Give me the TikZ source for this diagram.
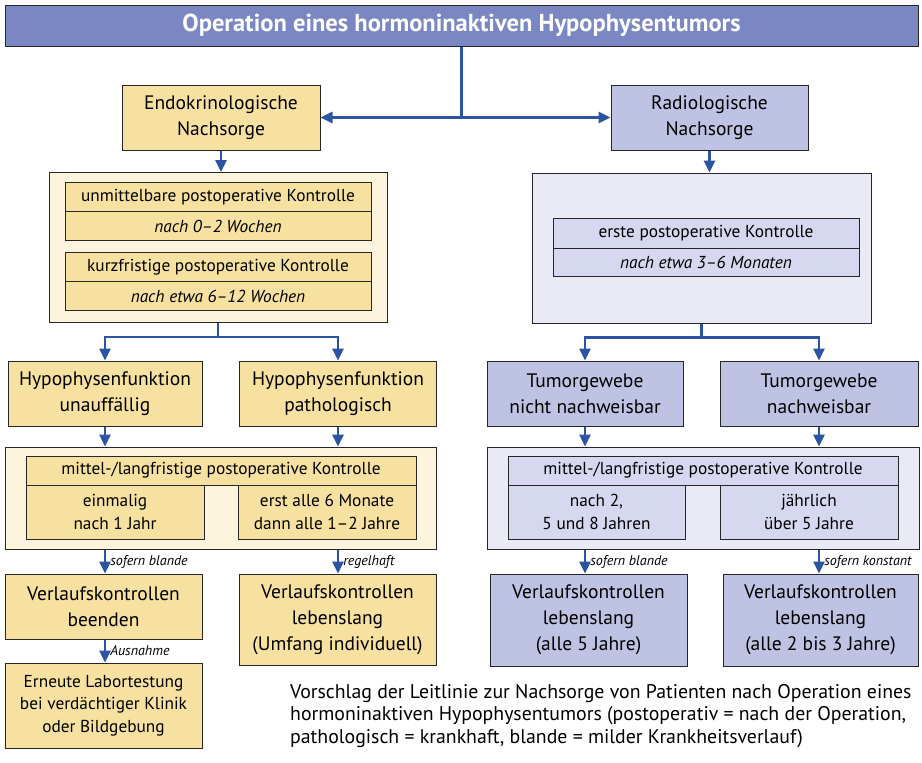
\documentclass[tikz,border=0pt]{standalone}
\usepackage{fontspec}
\setmainfont{PT Sans}
\usepackage{tikz}
\usetikzlibrary{arrows.meta}

\definecolor{titleblue}{HTML}{7B87C3}
\definecolor{endoyel}{HTML}{F7E1A0}
\definecolor{endocream}{HTML}{FCF4DC}
\definecolor{radlav}{HTML}{BEC2E3}
\definecolor{radpale}{HTML}{E9EAF6}
\definecolor{radcellc}{HTML}{D5D8EE}
\definecolor{arrowblue}{HTML}{2B55A3}

\tikzset{
        box/.style={draw=black!85, line width=1pt, align=center, inner sep=0pt,
                font=\fontsize{19.5}{26}\selectfont},
        endobox/.style={box, fill=endoyel},
        radbox/.style={box, fill=radlav},
        endopanel/.style={draw=black!85, line width=1pt, fill=endocream, inner sep=0pt},
        radpanel/.style={draw=black!85, line width=1pt, fill=radpale, inner sep=0pt},
        cell/.style={draw=black!85, line width=0.9pt, align=center, inner sep=0pt,
                font=\fontsize{17.3}{22.5}\selectfont},
        endocell/.style={cell, fill=endoyel},
        radcell/.style={cell, fill=radcellc},
        conn/.style={draw=arrowblue, line width=2.6pt, -{Triangle[width=11pt,length=12pt]}},
        cond/.style={anchor=west, inner sep=1pt, font=\fontsize{14}{15}\selectfont\itshape}
}

\begin{document}
\begin{tikzpicture}[x=1pt,y=-1pt]
        \useasboundingbox (0,0) rectangle (922,763);
        \node[draw=black!85, line width=1pt, fill=titleblue, text=white, inner sep=0pt,
                minimum width=913, minimum height=41, font=\fontsize{24.5}{28}\selectfont\bfseries]
                (title) at (461.5,25.5) {Operation eines hormoninaktiven Hypophysentumors};

        \node[endobox, minimum width=198, minimum height=65] (endo) at (221,117.5) {Endokrinologische\\Nachsorge};
        \node[radbox, minimum width=197, minimum height=65] (radio) at (709.5,117.5) {Radiologische\\Nachsorge};

        \node[endopanel, minimum width=338, minimum height=150] (endoK) at (218,247.5) {};
        \node[endocell, minimum width=306, minimum height=29] (uk) at (218,197) {unmittelbare postoperative Kontrolle};
        \node[endocell, minimum width=306, minimum height=29] (ukt) at (218,226) {\itshape nach 0--2 Wochen};
        \node[endocell, minimum width=306, minimum height=29] (kk) at (218,267) {kurzfristige postoperative Kontrolle};
        \node[endocell, minimum width=306, minimum height=29] (kkt) at (218,296) {\itshape nach etwa 6--12 Wochen};

        \node[radpanel, minimum width=339, minimum height=150] (radK) at (701.5,248) {};
        \node[radcell, minimum width=306, minimum height=30] (ek) at (706,233) {erste postoperative Kontrolle};
        \node[radcell, minimum width=306, minimum height=28] (ekt) at (706,262) {\itshape nach etwa 3--6 Monaten};

        \node[endobox, minimum width=194, minimum height=65] (hfu) at (105,393.5) {Hypophysenfunktion\\unauffällig};
        \node[endobox, minimum width=197, minimum height=65] (hfp) at (338,393.5) {Hypophysenfunktion\\pathologisch};
        \node[radbox, minimum width=196, minimum height=65] (tgn) at (585,393.5) {Tumorgewebe\\nicht nachweisbar};
        \node[radbox, minimum width=198, minimum height=65] (tgp) at (819,393.5) {Tumorgewebe\\nachweisbar};

        \node[endopanel, minimum width=431, minimum height=102] (endoL) at (220.5,498) {};
        \node[endocell, minimum width=390, minimum height=29] (el) at (221,470.5) {mittel-/langfristige postoperative Kontrolle};
        \node[endocell, minimum width=178, minimum height=54] (el1) at (115,512) {einmalig\\nach 1 Jahr};
        \node[endocell, minimum width=178, minimum height=54] (el2) at (327,512) {erst alle 6 Monate\\dann alle 1--2 Jahre};

        \node[radpanel, minimum width=432, minimum height=102] (radL) at (703,498) {};
        \node[radcell, minimum width=390, minimum height=29] (rl) at (703,470.5) {mittel-/langfristige postoperative Kontrolle};
        \node[radcell, minimum width=177, minimum height=54] (rl1) at (596.5,512) {nach 2,\\5 und 8 Jahren};
        \node[radcell, minimum width=178, minimum height=54] (rl2) at (809,512) {jährlich\\über 5 Jahre};

        \node[endobox, minimum width=197, minimum height=65] (vk1) at (103.5,606.5) {Verlaufskontrollen\\beenden};
        \node[endobox, minimum width=197, minimum height=91] (vk2) at (337.5,619.5) {Verlaufskontrollen\\lebenslang\\(Umfang individuell)};
        \node[radbox, minimum width=197, minimum height=92] (vk3) at (588.5,620) {Verlaufskontrollen\\lebenslang\\(alle 5 Jahre)};
        \node[radbox, minimum width=195, minimum height=92] (vk4) at (820.5,620) {Verlaufskontrollen\\lebenslang\\(alle 2 bis 3 Jahre)};

        \node[endobox, minimum width=197, minimum height=85, font=\fontsize{17.3}{22.5}\selectfont] (lab) at (103.5,705.5)
                {Erneute Labortestung\\bei verdächtiger Klinik\\oder Bildgebung};

        \node[anchor=north west, align=left, inner sep=0pt, font=\fontsize{19.8}{22.5}\selectfont] (note) at (290,684)
                {Vorschlag der Leitlinie zur Nachsorge von Patienten nach Operation eines\\
                hormoninaktiven Hypophysentumors (postoperativ = nach der Operation,\\
                pathologisch = krankhaft, blande = milder Krankheitsverlauf)};

        \draw[draw=arrowblue, line width=2.6pt] (title.south) -- (title.south |- endo.east);
        \draw[conn, {Triangle[width=11pt,length=12pt]}-{Triangle[width=11pt,length=12pt]}] (endo.east) -- (radio.west);
        \draw[conn] (endo.south) -- (endo |- endoK.north);
        \draw[conn] (radio.south) -- (radio |- radK.north);

        \draw[conn] (endoK.south) -- ++(0,14) -| (hfu.north);
        \draw[conn] (endoK.south) -- ++(0,14) -| (hfp.north);
        \draw[conn] (radK.south) -- ++(0,14) -| (tgn.north);
        \draw[conn] (radK.south) -- ++(0,14) -| (tgp.north);

        \draw[conn] (hfu.south) -- (hfu |- endoL.north);
        \draw[conn] (hfp.south) -- (hfp |- endoL.north);
        \draw[conn] (tgn.south) -- (tgn |- radL.north);
        \draw[conn] (tgp.south) -- (tgp |- radL.north);

        \draw[conn] (hfu |- endoL.south) -- (hfu |- vk1.north) node[cond, midway, xshift=3pt] {sofern blande};
        \draw[conn] (hfp |- endoL.south) -- (hfp |- vk2.north) node[cond, midway, xshift=3pt] {regelhaft};
        \draw[conn] (tgn |- radL.south) -- (tgn |- vk3.north) node[cond, midway, xshift=3pt] {sofern blande};
        \draw[conn] (tgp |- radL.south) -- (tgp |- vk4.north) node[cond, midway, xshift=3pt] {sofern konstant};
        \draw[conn] (hfu |- vk1.south) -- (hfu |- lab.north) node[cond, midway, xshift=3pt] {Ausnahme};
\end{tikzpicture}
\end{document}
